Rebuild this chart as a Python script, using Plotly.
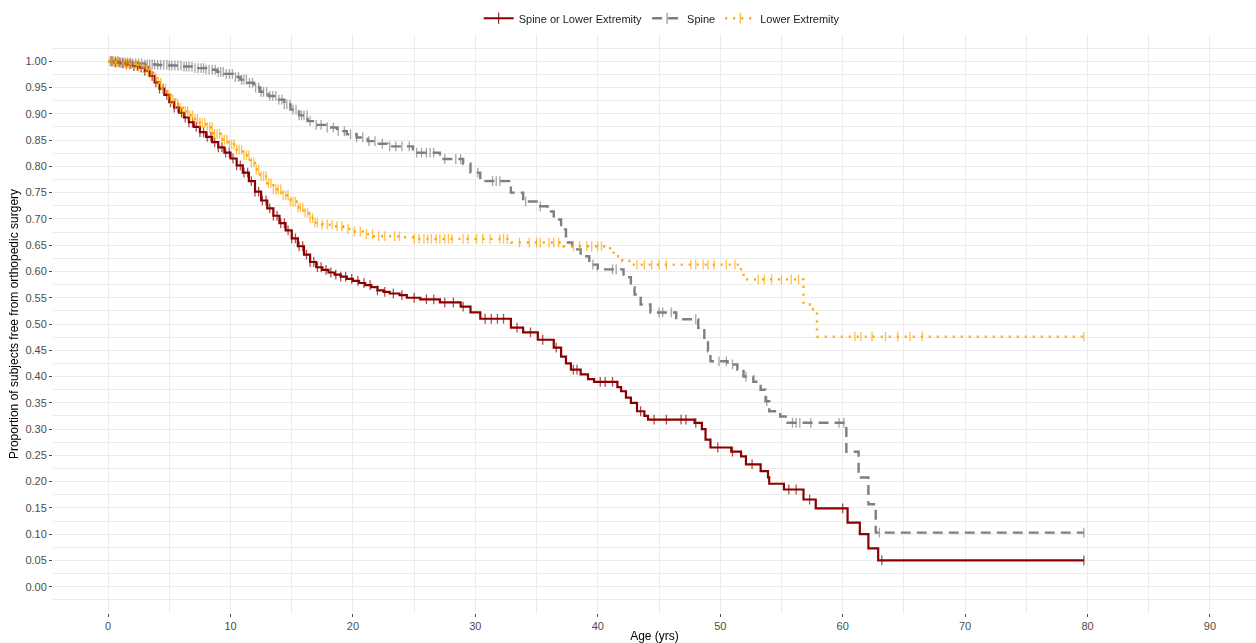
import numpy as np
import plotly.graph_objects as go

# ---------------- data ----------------
series_names = ["Spine or Lower Extremity", "Spine", "Lower Extremity"]

# Spine or Lower Extremity: step times and survival after each step
red_t = [0, 0.5, 1.0, 1.5, 2.0, 2.5, 3.0, 3.4, 3.8, 4.2, 4.6, 5.0, 5.4, 5.8, 6.2, 6.6, 7.0, 7.5,
         8.0, 8.5, 9.0, 9.5, 10.0, 10.5, 11.0, 11.5, 12.0, 12.5, 13.0, 13.5, 14.0, 14.5, 15.0,
         15.5, 16.0, 16.5, 17.0, 17.5, 18.0, 18.5, 19.0, 19.5, 20.0, 20.5, 21.0, 21.5, 22.0,
         22.5, 23.0, 23.8, 24.4, 25.5, 27.1, 28.8, 29.6, 30.4, 32.9, 33.9, 35.1, 36.4, 37.0,
         37.4, 37.8, 38.6, 39.2, 39.7, 41.6, 41.9, 42.3, 42.7, 43.2, 43.8, 44.1, 47.9, 48.5,
         48.8, 49.2, 50.9, 51.7, 52.1, 53.3, 53.9, 54.0, 55.2, 56.8, 57.8, 60.4, 61.4, 62.1,
         62.9, 79.7]
red_s = [1.000, 0.998, 0.996, 0.994, 0.991, 0.988, 0.982, 0.972, 0.960, 0.948, 0.936, 0.922,
         0.912, 0.902, 0.893, 0.884, 0.875, 0.865, 0.856, 0.846, 0.836, 0.826, 0.815, 0.802,
         0.788, 0.772, 0.752, 0.735, 0.720, 0.706, 0.692, 0.678, 0.663, 0.648, 0.632, 0.618,
         0.608, 0.603, 0.598, 0.594, 0.590, 0.586, 0.582, 0.578, 0.574, 0.570, 0.564, 0.561,
         0.558, 0.555, 0.550, 0.547, 0.541, 0.533, 0.522, 0.510, 0.493, 0.484, 0.470, 0.455,
         0.438, 0.425, 0.413, 0.404, 0.395, 0.390, 0.380, 0.372, 0.360, 0.350, 0.334, 0.325,
         0.318, 0.312, 0.300, 0.280, 0.265, 0.257, 0.248, 0.233, 0.220, 0.208, 0.196, 0.185,
         0.166, 0.149, 0.122, 0.100, 0.073, 0.050, 0.050]
red_cens = [0.3, 0.6, 0.9, 1.2, 1.5, 1.8, 2.1, 2.4, 2.7, 3.0, 3.3, 3.6, 3.9, 4.2, 4.5, 4.8, 5.1,
            5.4, 5.7, 6.0, 6.3, 6.6, 6.9, 7.2, 7.5, 7.8, 8.1, 8.4, 8.7, 9.0, 9.3, 9.6, 9.9, 10.2,
            10.5, 10.8, 11.1, 11.4, 11.7, 12.0, 12.3, 12.6, 12.9, 13.2, 13.5, 13.8, 14.1, 14.4,
            14.7, 15.0, 15.3, 15.6, 15.9, 16.2, 16.5, 16.8, 17.1, 17.4, 17.8, 18.2, 18.6, 19.0,
            19.4, 19.9, 20.4, 20.9, 21.4, 22.0, 22.6, 23.3, 24.0, 25.0, 26.0, 26.6, 27.5, 28.2,
            29.0, 30.8, 31.3, 31.8, 32.3, 33.4, 34.5, 35.5, 36.6, 38.0, 38.3, 40.2, 40.6, 41.2,
            43.5, 44.6, 45.6, 46.8, 47.2, 48.0, 49.8, 51.0, 52.6, 55.6, 56.2, 57.3, 60.0, 63.2,
            79.7]

# Spine
gray_t = [0, 1.0, 2.0, 3.0, 4.0, 5.0, 6.0, 7.0, 8.0, 8.9, 9.5, 10.2, 10.8, 11.4, 11.9, 12.4,
          13.1, 13.8, 14.4, 14.9, 15.6, 16.3, 17.0, 17.9, 18.7, 19.5, 20.3, 21.2, 22.0, 22.8,
          24.9, 27.1, 29.0, 29.6, 30.4, 32.9, 33.9, 35.1, 35.9, 36.4, 37.0, 37.4, 37.9, 38.6,
          39.3, 40.0, 42.1, 42.7, 43.0, 43.5, 44.3, 46.4, 48.2, 48.7, 49.0, 49.2, 50.6, 51.4,
          51.9, 52.7, 53.3, 53.7, 54.0, 54.9, 55.5, 60.3, 61.3, 62.1, 62.7, 79.7]
gray_s = [1.000, 0.998, 0.996, 0.994, 0.993, 0.992, 0.990, 0.987, 0.984, 0.980, 0.976, 0.970,
          0.965, 0.959, 0.950, 0.942, 0.934, 0.927, 0.918, 0.908, 0.897, 0.886, 0.879, 0.874,
          0.867, 0.861, 0.855, 0.848, 0.843, 0.838, 0.826, 0.814, 0.805, 0.788, 0.772, 0.750,
          0.733, 0.724, 0.714, 0.699, 0.680, 0.655, 0.642, 0.629, 0.613, 0.604, 0.589, 0.570,
          0.556, 0.537, 0.522, 0.509, 0.493, 0.470, 0.448, 0.429, 0.423, 0.413, 0.400, 0.390,
          0.375, 0.353, 0.334, 0.324, 0.312, 0.257, 0.208, 0.157, 0.103, 0.103]
gray_cens = [0.2, 0.4, 0.6, 0.8, 1.0, 1.2, 1.4, 1.6, 1.8, 2.0, 2.25, 2.5, 2.75, 3.0, 3.2, 3.4,
             3.6, 3.8, 4.05, 4.3, 4.55, 4.8, 5.0, 5.2, 5.45, 5.7, 5.95, 6.2, 6.4, 6.6, 6.85, 7.1,
             7.35, 7.6, 7.8, 8.0, 8.25, 8.5, 8.75, 9.0, 9.2, 9.4, 9.65, 9.9, 10.15, 10.4, 10.65,
             10.9, 11.1, 11.3, 11.55, 11.8, 12.05, 12.3, 12.5, 12.7, 12.95, 13.2, 13.45, 13.7,
             13.95, 14.2, 14.4, 14.6, 14.85, 15.1, 15.35, 15.6, 15.8, 16.0, 16.25, 16.5, 17.0,
             17.4, 17.9, 18.4, 18.8, 19.3, 19.8, 20.3, 20.8, 21.3,
             21.8, 22.4, 23.0, 23.5, 24.0, 24.6, 25.2, 25.6, 26.0, 26.3, 26.6, 27.5, 28.4, 28.8,
             30.2, 31.4, 31.7, 32.0, 34.1, 35.3, 39.6, 41.2, 41.5, 45.0, 45.3, 46.0, 48.0, 49.9,
             50.5, 51.0, 52.1, 53.8, 55.9, 56.2, 56.5, 57.4, 59.7, 60.1, 63.0, 79.7]

# Lower Extremity
orange_t = [0, 0.5, 1.0, 1.5, 2.0, 2.5, 2.9, 3.3, 3.7, 4.0, 4.4, 4.8, 5.1, 5.5, 5.8, 6.1, 6.6,
            7.0, 7.5, 8.0, 8.6, 9.2, 9.8, 10.5, 11.0, 11.6, 12.0, 12.4, 13.0, 13.5, 14.2, 14.9,
            15.5, 16.0, 16.4, 16.8, 17.5, 18.4, 19.2, 20.0, 20.8, 21.7, 23.9, 25.0, 32.9, 37.2,
            41.0, 41.3, 42.0, 42.7, 51.7, 51.9, 56.8, 57.5, 57.9, 79.7]
orange_s = [1.000, 0.998, 0.996, 0.995, 0.993, 0.990, 0.987, 0.978, 0.968, 0.959, 0.948, 0.936,
            0.927, 0.918, 0.911, 0.905, 0.897, 0.890, 0.883, 0.874, 0.862, 0.851, 0.842, 0.832,
            0.821, 0.807, 0.794, 0.781, 0.768, 0.756, 0.745, 0.733, 0.722, 0.712, 0.702, 0.693,
            0.689, 0.686, 0.681, 0.676, 0.671, 0.667, 0.665, 0.662, 0.655, 0.648, 0.638, 0.629,
            0.620, 0.613, 0.596, 0.585, 0.537, 0.528, 0.476, 0.476]
orange_cens = [0.15, 0.3, 0.5, 0.7, 0.9, 1.1, 1.3, 1.5, 1.7, 1.9, 2.1, 2.3, 2.5, 2.7, 2.9, 3.1,
               3.3, 3.5, 3.7, 3.9, 4.1, 4.3, 4.5, 4.7, 4.9, 5.1, 5.3, 5.5, 5.7, 5.9, 6.1, 6.3,
               6.5, 6.7, 6.9, 7.1, 7.3, 7.5, 7.7, 7.9, 8.1, 8.3, 8.5, 8.7, 8.9, 9.1, 9.3, 9.5,
               9.7, 9.9, 10.1, 10.3, 10.5, 10.7, 10.9, 11.1, 11.3, 11.5, 11.7, 11.9, 12.1, 12.3,
               12.5, 12.7, 12.9, 13.1, 13.3, 13.5, 13.7, 13.9, 14.1, 14.3, 14.5, 14.7, 14.9,
               15.1, 15.3, 15.5, 15.7, 15.9, 16.1, 16.3, 16.5, 16.7, 16.9, 17.1, 17.5,
               17.9, 18.3, 18.7, 19.1, 19.6, 20.1, 20.6, 21.1, 21.6, 22.1, 22.6, 23.4, 23.8,
               25.0, 25.4, 25.8, 26.1, 26.4, 26.8, 27.1, 27.5, 27.8, 28.1, 29.0, 29.4, 30.1,
               30.6, 31.2, 32.0, 32.3, 32.6, 33.6, 34.4, 35.0, 35.3, 36.0, 36.4, 36.8, 38.0,
               38.5, 39.1, 39.5, 40.0, 40.3, 43.2, 43.8, 44.4, 45.0, 45.6, 47.6, 48.0, 48.6,
               49.0, 49.5, 50.5, 51.2, 53.1, 53.6, 54.2, 55.0, 55.8, 56.4, 61.0, 61.5, 62.4,
               63.5, 64.5, 65.5, 66.5, 79.7]

x_ticks = [0, 10, 20, 30, 40, 50, 60, 70, 80, 90]
y_ticks = [round(0.05 * i, 2) for i in range(21)]
y_ticklabels = [f"{v:.2f}" for v in y_ticks]

# ---------------- styling ----------------
colors = ["#8B0000", "#7F7F7F", "#FFA500"]
dashes = ["solid", "10px,6px", "2px,6px"]
widths = [2.2, 2.4, 2.4]

series = [(red_t, red_s, red_cens), (gray_t, gray_s, gray_cens), (orange_t, orange_s, orange_cens)]


def step_value(t, s, x):
    t = np.asarray(t)
    s = np.asarray(s)
    idx = np.searchsorted(t, x, side="right") - 1
    idx = np.clip(idx, 0, len(s) - 1)
    return s[idx]


fig = go.Figure()

order = [0, 1, 2]
for i in order:
    t, s, c = series[i]
    fig.add_trace(go.Scatter(
        x=t, y=s, mode="lines", line=dict(color=colors[i], width=widths[i], dash=dashes[i],
                                          shape="hv"),
        showlegend=False, hoverinfo="skip"))
    fig.add_trace(go.Scatter(
        x=c, y=step_value(t, s, np.asarray(c)), mode="markers",
        marker=dict(symbol="line-ns", size=7, color=colors[i],
                    line=dict(width=1.3, color=colors[i])),
        opacity=0.7, showlegend=False, hoverinfo="skip"))

# legend entries
for i in range(3):
    fig.add_trace(go.Scatter(
        x=[None], y=[None], mode="lines+markers", name=series_names[i],
        line=dict(color=colors[i], width=widths[i], dash=dashes[i]),
        marker=dict(symbol="line-ns", size=8, color=colors[i],
                    line=dict(width=1, color=colors[i]))))

fig.update_layout(
    template="none",
    width=1256, height=643,
    margin=dict(l=53, r=0, t=35, b=30, autoexpand=False),
    paper_bgcolor="white", plot_bgcolor="white",
    font=dict(family="Liberation Sans, Arial, sans-serif", size=11, color="#4D4D4D"),
    legend=dict(orientation="h", x=0.506, xanchor="center", y=1.029, yanchor="middle",
                font=dict(size=11, color="#1A1A1A"), itemwidth=30, traceorder="normal",
                bgcolor="rgba(0,0,0,0)"),
    showlegend=True,
)

fig.update_xaxes(
    automargin=False,
    range=[-4.5, 93.76], tickmode="array", tickvals=x_ticks,
    ticks="outside", ticklen=3, tickcolor="#4D4D4D", tickwidth=1,
    showline=False, zeroline=False,
    showgrid=True, gridcolor="#EBEBEB", gridwidth=1,
    minor=dict(tickmode="linear", tick0=5, dtick=10, showgrid=True, gridcolor="#EBEBEB",
               gridwidth=0.6, ticks=""),
    tickfont=dict(size=11, color="#4D4D4D"),
    title=dict(text="Age (yrs)", font=dict(size=12, color="black"), standoff=2),
)

fig.update_yaxes(
    automargin=False,
    range=[-0.05, 1.05], tickmode="array", tickvals=y_ticks, ticktext=y_ticklabels,
    ticks="outside", ticklen=3, tickcolor="#4D4D4D", tickwidth=1,
    showline=False, zeroline=False,
    showgrid=True, gridcolor="#EBEBEB", gridwidth=1,
    minor=dict(tickmode="linear", tick0=-0.025, dtick=0.05, showgrid=True,
               gridcolor="#EBEBEB", gridwidth=0.6, ticks=""),
    tickfont=dict(size=11, color="#4D4D4D"),
    title=dict(text="Proportion of subjects free from orthopedic surgery",
               font=dict(size=12, color="black"), standoff=4),
)

fig.write_html("out.html", config={"displayModeBar": False},
               post_script="document.body.style.margin='0px';")
